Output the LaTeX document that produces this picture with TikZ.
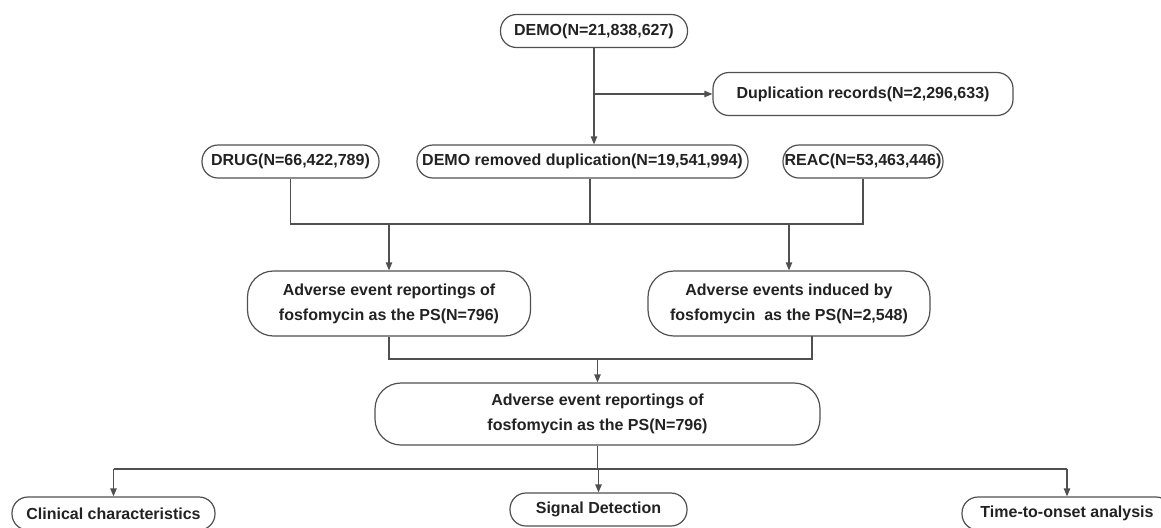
\documentclass[tikz,border=0pt]{standalone}
\usepackage{fontspec}
\setmainfont{Liberation Sans}
\usetikzlibrary{arrows.meta}
\definecolor{linegray}{HTML}{505050}
\definecolor{textgray}{HTML}{222222}
\begin{document}
\begin{tikzpicture}[x=0.5pt,y=-0.5pt,
    box/.style={draw=linegray,line width=0.6pt,rounded corners=8pt,align=center,
        font=\fontsize{8}{12.5}\selectfont\bfseries,text=textgray,inner sep=0pt,minimum height=16.5pt},
    bigbox/.style={box,rounded corners=13pt,minimum height=32.5pt},
    link/.style={draw=linegray,line width=0.6pt},
    arr/.style={link,-{Triangle[length=4pt,width=3.2pt]}}]
\useasboundingbox (0,0) rectangle (1161,527);
\node[box,minimum width=93.5pt] (demo) at (594,31) {DEMO(N=21,838,627)};
\node[box,minimum width=150pt,minimum height=21.5pt] (dup) at (863,94) {Duplication records(N=2,296,633)};
\node[box,minimum width=88.5pt] (drug) at (290.5,161.5) {DRUG(N=66,422,789)};
\node[box,minimum width=165.5pt] (demor) at (582.5,161.5) {DEMO removed duplication(N=19,541,994)};
\node[box,minimum width=80pt] (reac) at (863,161.5) {REAC(N=53,463,446)};
\node[bigbox,minimum width=141.5pt] (aeL) at (389,303.5) {Adverse event reportings of\\fosfomycin as the PS(N=796)};
\node[bigbox,minimum width=141pt] (aeR) at (789,303.5) {Adverse events induced by\\fosfomycin~ as the PS(N=2,548)};
\node[bigbox,minimum width=222.5pt,minimum height=31pt] (ae) at (597.5,414) {Adverse event reportings of\\fosfomycin as the PS(N=796)};
\node[box,minimum width=101.5pt] (clin) at (113.5,513.5) {Clinical characteristics};
\node[box,minimum width=88.5pt] (sig) at (598.5,509.5) {Signal Detection};
\node[box,minimum width=105pt] (tto) at (1067,513.5) {Time-to-onset analysis};
\coordinate (j1) at (590,224);
\coordinate (j2) at (600,359);
\coordinate (j3) at (598,469);
\coordinate (r2) at (812,336);
\draw[arr] (demo.south) -- (demo.south |- demor.north);
\draw[arr] (demo.south |- dup.west) -- (dup.west);
\draw[link] (drug.south) -- (drug.south |- j1) -- (reac.south |- j1) -- (reac.south);
\draw[link] (demor.south -| j1) -- (j1);
\draw[arr] (aeL.north |- j1) -- (aeL.north);
\draw[arr] (aeR.north |- j1) -- (aeR.north);
\draw[link] (aeL.south) -- (aeL.south |- j2) -- (r2 |- j2) -- (r2);
\draw[arr] (ae.north |- j2) -- (ae.north);
\draw[link] (ae.south) -- (ae.south |- j3);
\draw[link] (clin.north |- j3) -- (tto.north |- j3);
\foreach \n in {clin,sig,tto}
    \draw[arr] (\n.north |- j3) -- (\n.north);
\end{tikzpicture}
\end{document}
